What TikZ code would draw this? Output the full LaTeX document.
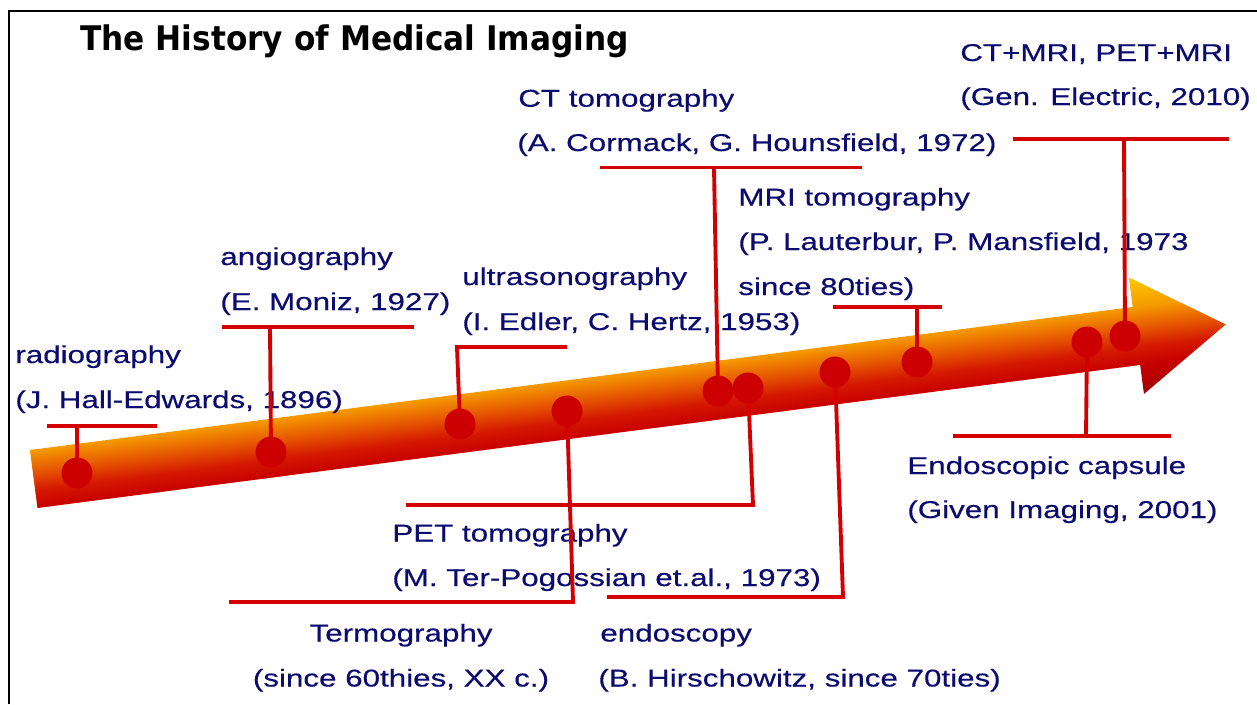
\documentclass[tikz,border=0pt]{standalone}
\usepackage{fontspec}
\newfontfamily\labfont[FakeStretch=1.29,FakeBold=0.4]{Liberation Sans}
\newfontfamily\titlefont[FakeStretch=0.92]{DejaVu Sans}
\definecolor{navy}{RGB}{12,12,112}
\definecolor{linered}{RGB}{212,0,0}
\definecolor{dotred}{RGB}{204,0,0}
\definecolor{ardark}{RGB}{160,0,0}
\definecolor{arred}{RGB}{200,0,0}
\definecolor{arred2}{RGB}{212,24,0}
\definecolor{armid}{RGB}{230,85,0}
\definecolor{arorange}{RGB}{245,155,0}
\definecolor{aryellow}{RGB}{255,200,0}
\pgfdeclareverticalshading{arrowgrad}{100bp}{color(0bp)=(ardark); color(25bp)=(ardark); color(37.6bp)=(arred); color(45bp)=(arred2); color(53bp)=(armid); color(62.4bp)=(arorange); color(75bp)=(aryellow); color(100bp)=(aryellow)}
\tikzset{
  lbl/.style={font=\labfont\fontsize{13.83pt}{16pt}\selectfont, text=navy, inner sep=0pt, anchor=base west},
  lblc/.style={lbl, anchor=base},
  conn/.style={draw=linered, line width=2.2pt},
  dot/.style={circle, fill=dotred, draw=none, minimum size=0.62cm, inner sep=0pt},
  frameline/.style={draw=black, line width=1.7pt}
}
\begin{document}
\begin{tikzpicture}[x=0.02cm, y=-0.02cm]
\useasboundingbox (0,0) rectangle (1257,704);
\fill[white] (0,0) rectangle (1257,704);
% frame
\coordinate (fb) at (9,704);
\coordinate (fc) at (9,11);
\coordinate (fr) at (1257,11);
\draw[frameline] (fb) -- (fc) -- (fr);
% title
\node[lbl, text=black, font=\titlefont\bfseries\fontsize{19.3pt}{22pt}\selectfont] (title) at (80,50) {The History of Medical Imaging};
% arrow
\begin{scope}[transform canvas={shift={(33.7,479)}, rotate=7.39}]
\shade[shading=arrowgrad] (0,-29.25) -- (1112,-29.25) -- (1112,-59) -- (1202,0) -- (1112,58.5) -- (1112,29.25) -- (0,29.25) -- cycle;
\end{scope}
% texts
\node[lbl] (t1a) at (15,363) {radiography};
\node[lbl] (t1b) at (15,408) {(J. Hall-Edwards, 1896)};
\node[lbl] (t2a) at (220,265) {angiography};
\node[lbl] (t2b) at (220,310) {(E. Moniz, 1927)};
\node[lbl] (t3a) at (462,285) {ultrasonography};
\node[lbl] (t3b) at (462,330) {(I. Edler, C. Hertz, 1953)};
\node[lbl] (t5a) at (518,106.7) {CT tomography};
\node[lbl] (t5b) at (517,151) {(A. Cormack, G. Hounsfield, 1972)};
\node[lbl] (t8a) at (738,205.5) {MRI tomography};
\node[lbl] (t8b) at (738,250) {(P. Lauterbur, P. Mansfield, 1973};
\node[lbl] (t8c) at (738,295) {since 80ties)};
\node[lbl] (t10a) at (960,61) {CT+MRI, PET+MRI};
\node[lbl] (t10b) at (960,105) {(Gen. Electric, 2010)};
\node[lbl] (t9a) at (907,474) {Endoscopic capsule};
\node[lbl] (t9b) at (907,518) {(Given Imaging, 2001)};
\node[lbl] (t6a) at (392,541.5) {PET tomography};
\node[lbl] (t6b) at (392,586) {(M. Ter-Pogossian et.al., 1973)};
\node[lblc] (t4a) at (401,641.5) {Termography};
\node[lblc] (t4b) at (401,686.5) {(since 60thies, XX c.)};
\node[lbl] (t7a) at (600,641.5) {endoscopy};
\node[lbl] (t7b) at (598,686.5) {(B. Hirschowitz, since 70ties)};
% dot positions
\coordinate (p1) at (77,473);
\coordinate (p2) at (271,452);
\coordinate (p3) at (460,424);
\coordinate (p4) at (567,411);
\coordinate (p5) at (718,391);
\coordinate (p6) at (748,388);
\coordinate (p7) at (835,372);
\coordinate (p8) at (917,362);
\coordinate (p9) at (1087,342);
\coordinate (p10) at (1125,336);
% connector points
\coordinate (c1l) at (47,426); \coordinate (c1r) at (157,426); \coordinate (c1m) at (77,426);
\coordinate (c2l) at (222,327); \coordinate (c2r) at (414,327); \coordinate (c2m) at (270,327);
\coordinate (c3l) at (457,347); \coordinate (c3r) at (567,347);
\coordinate (c4k) at (573,602); \coordinate (c4l) at (229,602);
\coordinate (c5l) at (600,167.5); \coordinate (c5r) at (862,167.5); \coordinate (c5m) at (714,167.5);
\coordinate (c6k) at (753,505); \coordinate (c6l) at (406,505);
\coordinate (c7k) at (843,597); \coordinate (c7l) at (607,597);
\coordinate (c8l) at (833,307); \coordinate (c8r) at (942,307); \coordinate (c8m) at (917,307);
\coordinate (c9l) at (953,436); \coordinate (c9r) at (1171,436); \coordinate (c9m) at (1086,436);
\coordinate (c10l) at (1013,139); \coordinate (c10r) at (1229,139); \coordinate (c10m) at (1124,139);
% connectors
\draw[conn] (c1l) -- (c1r); \draw[conn] (c1m) -- (p1);
\draw[conn] (c2l) -- (c2r); \draw[conn] (c2m) -- (p2);
\draw[conn] (c3r) -- (c3l) -- (p3);
\draw[conn] (p4) -- (c4k) -- (c4l);
\draw[conn] (c5l) -- (c5r); \draw[conn] (c5m) -- (p5);
\draw[conn] (p6) -- (c6k) -- (c6l);
\draw[conn] (p7) -- (c7k) -- (c7l);
\draw[conn] (c8l) -- (c8r); \draw[conn] (c8m) -- (p8);
\draw[conn] (c9l) -- (c9r); \draw[conn] (c9m) -- (p9);
\draw[conn] (c10l) -- (c10r); \draw[conn] (c10m) -- (p10);
% dots
\node[dot] (d1) at (p1) {};
\node[dot] (d2) at (p2) {};
\node[dot] (d3) at (p3) {};
\node[dot] (d4) at (p4) {};
\node[dot] (d5) at (p5) {};
\node[dot] (d6) at (p6) {};
\node[dot] (d7) at (p7) {};
\node[dot] (d8) at (p8) {};
\node[dot] (d9) at (p9) {};
\node[dot] (d10) at (p10) {};
\end{tikzpicture}
\end{document}
